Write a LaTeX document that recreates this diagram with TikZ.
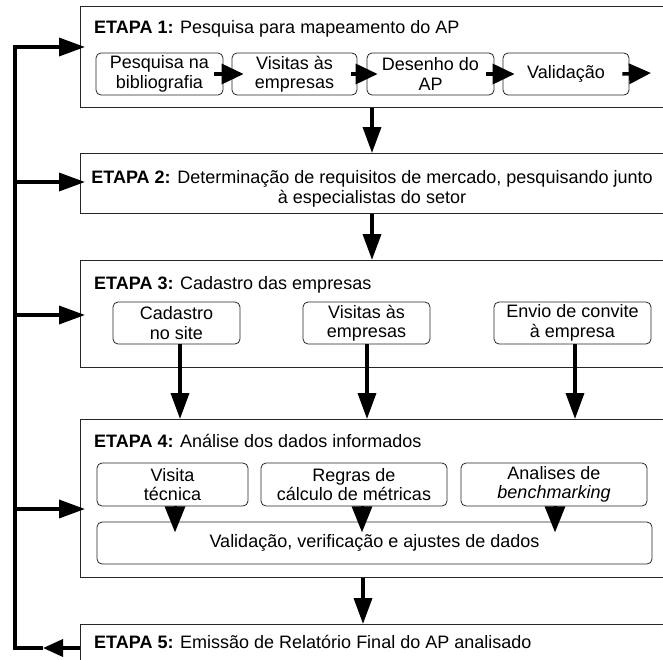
\documentclass[tikz,border=0pt]{standalone}
\usepackage{fontspec}
\setmainfont{Liberation Sans}
\usetikzlibrary{arrows.meta}
\begin{document}
\begin{tikzpicture}[x=1pt,y=-1pt,
  font=\fontsize{18pt}{19.5pt}\selectfont,
  stagebox/.style={draw=black!85, line width=1.1pt, anchor=north west, minimum width=610pt, inner sep=0pt},
  subbox/.style={draw=black!85, line width=0.8pt, rounded corners=5pt, align=center, inner sep=0pt, minimum height=42pt},
  lbl/.style={anchor=base west, inner sep=0pt},
  bigarrow/.style={line width=3.5pt, -{Triangle[length=26pt,width=18pt]}},
  smallarrow/.style={line width=3.5pt, -{Triangle[length=22pt,width=20pt]}},
  midarrow/.style={line width=3pt, -{Triangle[length=26pt,width=20pt]}},
  retarrow/.style={line width=3.5pt, -{Triangle[length=20pt,width=17pt]}},
  fline/.style={line width=3.5pt}]
\useasboundingbox (0,0) rectangle (663,659);
\clip (0,0) rectangle (663,659);

% stage boxes
\node[stagebox, minimum height=101pt] (e1) at (80,6) {};
\node[stagebox, minimum height=60pt] (e2) at (80,153) {};
\node[stagebox, minimum height=107pt] (e3) at (80,260) {};
\node[stagebox, minimum height=158pt] (e4) at (80,419) {};
\node[stagebox, minimum height=80pt] (e5) at (80,624) {};

% labels
\node[lbl] (t1) at (94,33) {\textbf{ETAPA 1:} Pesquisa para mapeamento do AP};
\node[anchor=base, inner sep=0pt] (t2a) at (372,183) {\textbf{ETAPA 2:} Determinação de requisitos de mercado, pesquisando junto};
\node[anchor=base, inner sep=0pt] (t2b) at (372,203) {à especialistas do setor};
\node[lbl] (t3) at (94,289) {\textbf{ETAPA 3:} Cadastro das empresas};
\node[lbl] (t4) at (94,447) {\textbf{ETAPA 4:} Análise dos dados informados};
\node[lbl] (t5) at (94,648) {\textbf{ETAPA 5:} Emissão de Relatório Final do AP analisado};

% stage 1 sub-boxes
\node[subbox, minimum width=127pt] (p1) at (159.5,74) {Pesquisa na\\bibliografia};
\node[subbox, minimum width=125pt] (p2) at (294.5,74) {Visitas às\\empresas};
\node[subbox, minimum width=127pt] (p3) at (430.5,74) {Desenho do\\AP};
\node[subbox, minimum width=126pt] (p4) at (566,74) {Validação};
\coordinate (p4out) at (651,73);
\draw[smallarrow] ([xshift=-9pt]p1.east) -- ([xshift=12pt]p2.west);
\draw[smallarrow] ([xshift=-6pt]p2.east) -- ([xshift=11pt]p3.west);
\draw[smallarrow] ([xshift=-8pt]p3.east) -- ([xshift=12pt]p4.west);
\draw[smallarrow] ([xshift=-7pt]p4.east) -- (p4out);

% stage 3 sub-boxes
\node[subbox, minimum width=127pt] (c1) at (176.5,323) {Cadastro\\no site};
\node[subbox, minimum width=127pt] (c2) at (366.5,323) {Visitas às\\empresas};
\node[subbox, minimum width=157pt] (c3) at (572.5,323) {Envio de convite\\à empresa};

% stage 4 sub-boxes
\node[subbox, minimum width=151pt, minimum height=43pt] (a1) at (172.5,484.5) {Visita\\técnica};
\node[subbox, minimum width=186pt, minimum height=43pt] (a2) at (354,484.5) {Regras de\\cálculo de métricas};
\node[subbox, minimum width=186pt, minimum height=43pt] (a3) at (554,484.5) {Analises de\\\textit{benchmarking}};
\node[subbox, minimum width=555pt] (val) at (374.5,543) {Validação, verificação e ajustes de dados};
\draw[midarrow] ([xshift=2.5pt]a1.south) -- ++(0,26);
\draw[midarrow] ([xshift=8pt]a2.south) -- ++(0,26);
\draw[midarrow] ([xshift=1pt]a3.south) -- ++(0,26);

% vertical flow
\draw[bigarrow] ([xshift=292pt]e1.south west) -- ([xshift=292pt]e2.north west);
\draw[bigarrow] ([xshift=292pt]e2.south west) -- ([xshift=292pt]e3.north west);
\draw[bigarrow] ([xshift=3.5pt]c1.south) -- ([xshift=100pt]e4.north west);
\draw[bigarrow] ([xshift=0.5pt]c2.south) -- ([xshift=287pt]e4.north west);
\draw[bigarrow] ([xshift=2.5pt]c3.south) -- ([xshift=495pt]e4.north west);
\draw[bigarrow] ([xshift=283pt]e4.south west) -- ([xshift=283pt]e5.north west);

% feedback loop
\coordinate (r5) at (43,648);
\coordinate (L5) at (15,648);
\coordinate (L1) at (15,47);
\coordinate (L2) at (15,182);
\coordinate (L3) at (15,315);
\coordinate (L4) at (15,509);
\draw[retarrow] ([yshift=-24pt]e5.north west) -- (r5);
\draw[bigarrow] (r5) -- (L5) -- (L1) -- ([xshift=5pt,yshift=-41pt]e1.north west);
\draw[bigarrow] (L2) -- ([xshift=5pt,yshift=-29pt]e2.north west);
\draw[bigarrow] (L3) -- ([xshift=5pt,yshift=-55pt]e3.north west);
\draw[bigarrow] (L4) -- ([xshift=5pt,yshift=-90pt]e4.north west);
\end{tikzpicture}
\end{document}
